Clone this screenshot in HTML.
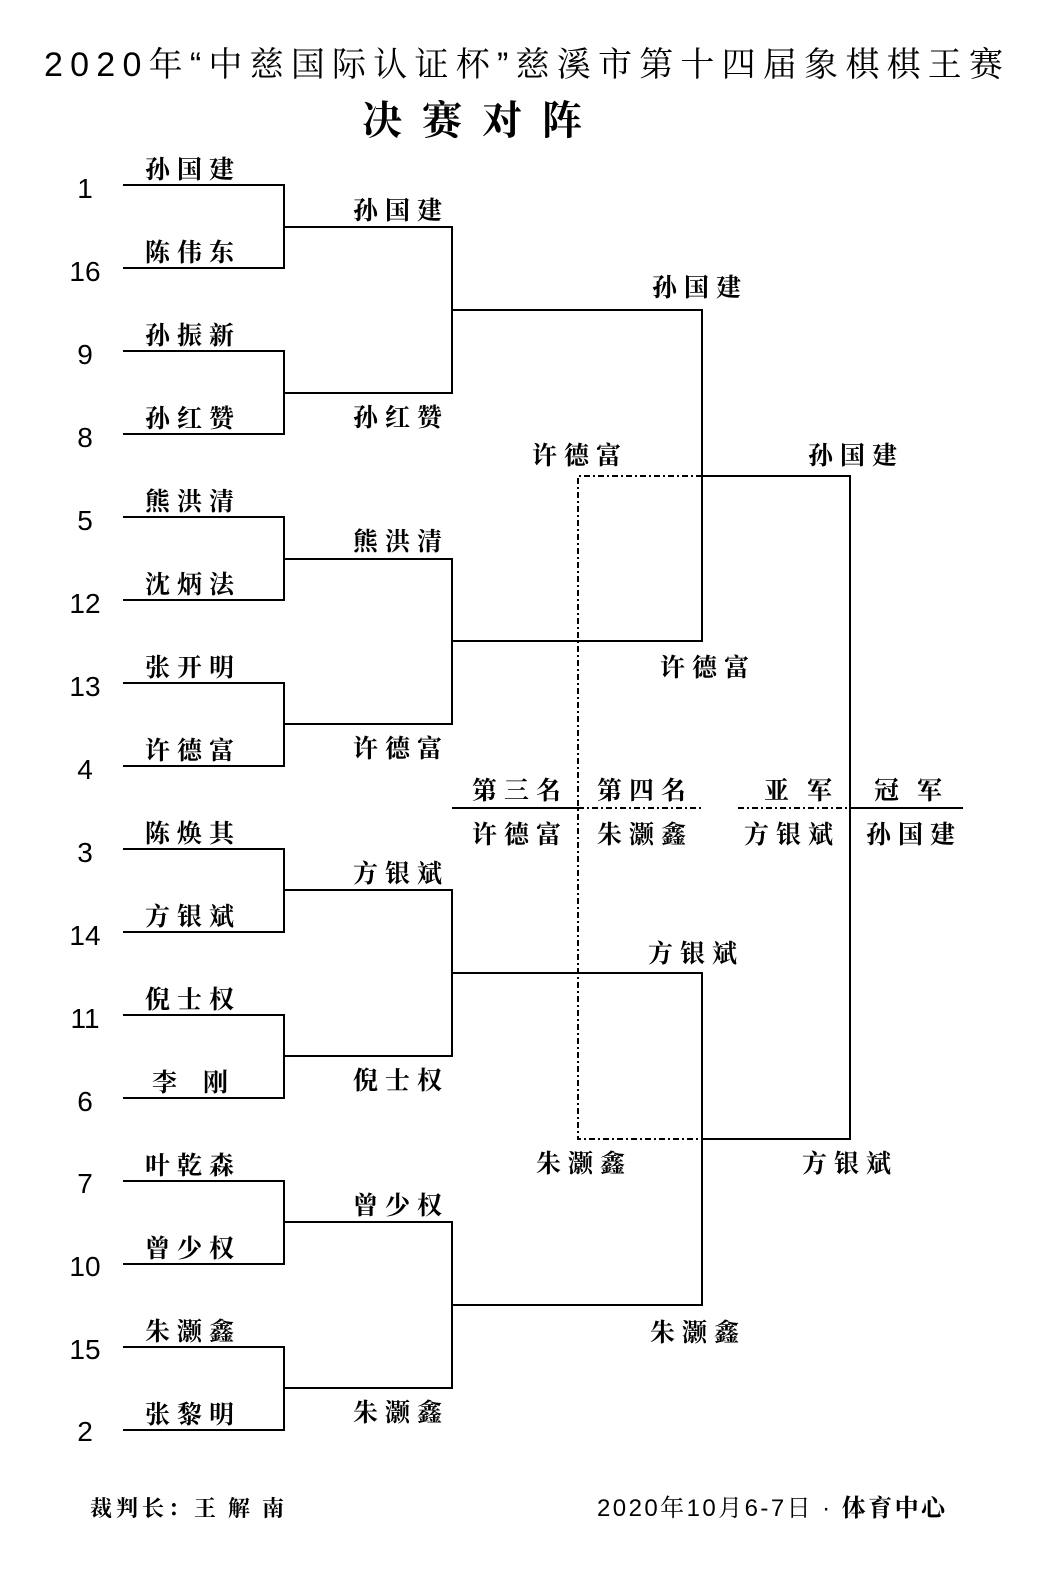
<!DOCTYPE html>
<html><head><meta charset="utf-8"><style>
html,body{margin:0;padding:0;background:#fff}
svg{display:block}
text{font-family:"Liberation Sans","Noto Serif CJK SC","Noto Sans CJK SC",serif;fill:#000}
.n{font-size:25px;font-weight:bold;letter-spacing:7px}
.s{font-family:"Liberation Serif",serif;font-size:28px;text-anchor:middle}
</style></head><body>
<svg width="1064" height="1589" xmlns="http://www.w3.org/2000/svg">
<text x="44" y="76" textLength="959" lengthAdjust="spacing" style="font-size:34px">2020年“中慈国际认证杯”慈溪市第十四届象棋棋王赛</text>
<text x="362" y="134" style="font-size:40px;font-weight:bold;letter-spacing:20px">决赛对阵</text>
<g stroke="#000" stroke-width="2" fill="none">
<path d="M123 185H284V268H123M123 351H284V434H123M123 517H284V600H123M123 683H284V766H123M123 849H284V932H123M123 1015H284V1098H123M123 1181H284V1264H123M123 1347H284V1430H123"/>
<path d="M284 227H452V393H284M284 559H452V724H284M284 890H452V1056H284M284 1222H452V1388H284"/>
<path d="M452 310H702V641H452M452 973H702V1305H452"/>
<path d="M702 476H850V1139H702"/>
<path d="M452 808H578M850 808H963"/>
</g>
<g stroke="#000" stroke-width="2" fill="none" stroke-dasharray="6,3,2,3">
<path d="M702 476H578V1139H702"/>
<path d="M578 808H702M738 808H850"/>
</g>
<g class="s">
<text x="85" y="198">1</text><text x="85" y="281">16</text><text x="85" y="364">9</text><text x="85" y="447">8</text>
<text x="85" y="530">5</text><text x="85" y="613">12</text><text x="85" y="696">13</text><text x="85" y="779">4</text>
<text x="85" y="862">3</text><text x="85" y="945">14</text><text x="85" y="1028">11</text><text x="85" y="1111">6</text>
<text x="85" y="1193">7</text><text x="85" y="1276">10</text><text x="85" y="1359">15</text><text x="85" y="1441">2</text>
</g>
<g class="n">
<text x="145" y="178">孙国建</text><text x="145" y="261">陈伟东</text><text x="145" y="344">孙振新</text><text x="145" y="427">孙红赞</text>
<text x="145" y="510">熊洪清</text><text x="145" y="593">沈炳法</text><text x="145" y="676">张开明</text><text x="145" y="759">许德富</text>
<text x="145" y="842">陈焕其</text><text x="145" y="925">方银斌</text><text x="145" y="1008">倪士权</text><text x="152" y="1091" style="letter-spacing:26px">李刚</text>
<text x="145" y="1174">叶乾森</text><text x="145" y="1257">曾少权</text><text x="145" y="1340">朱灏鑫</text><text x="145" y="1423">张黎明</text>
<text x="353" y="219">孙国建</text><text x="353" y="426">孙红赞</text><text x="353" y="550">熊洪清</text><text x="353" y="757">许德富</text>
<text x="353" y="882">方银斌</text><text x="353" y="1089">倪士权</text><text x="353" y="1214">曾少权</text><text x="353" y="1421">朱灏鑫</text>
<text x="652" y="296">孙国建</text><text x="660" y="676">许德富</text><text x="648" y="962">方银斌</text><text x="650" y="1341">朱灏鑫</text>
<text x="808" y="464">孙国建</text><text x="532" y="464">许德富</text><text x="802" y="1172">方银斌</text><text x="536" y="1172">朱灏鑫</text>
<text x="472" y="799">第三名</text><text x="597" y="799">第四名</text><text x="764" y="799" style="letter-spacing:18px">亚军</text><text x="874" y="799" style="letter-spacing:18px">冠军</text>
<text x="472" y="843">许德富</text><text x="597" y="843">朱灏鑫</text><text x="744" y="843">方银斌</text><text x="866" y="843">孙国建</text>
</g>
<text x="90" y="1516" style="font-size:22px;font-weight:bold;letter-spacing:4px">裁判长：<tspan style="letter-spacing:12px">王解南</tspan></text>
<text x="597" y="1516" textLength="348" lengthAdjust="spacing" style="font-size:24px">2020年10月6-7日 · <tspan style="font-weight:bold">体育中心</tspan></text>
</svg>
</body></html>
